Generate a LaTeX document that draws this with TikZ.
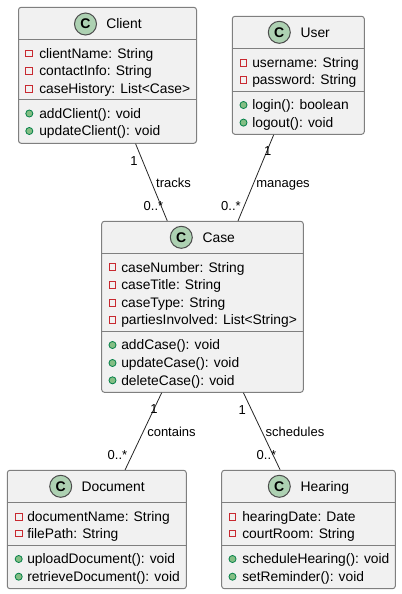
\documentclass[tikz,border=0pt]{standalone}
\usepackage{fontspec}
\setmainfont{Liberation Sans}
\definecolor{boxfill}{HTML}{F1F1F1}
\definecolor{boxline}{HTML}{7F7F7F}
\definecolor{spotfill}{HTML}{ADD1B2}
\definecolor{privline}{HTML}{C82930}
\definecolor{pubfill}{HTML}{84BE84}
\definecolor{publine}{HTML}{038048}
\tikzset{
	classbox/.style = {draw=boxline, fill=boxfill, line width=0.75pt, rounded corners=2pt, inner sep=0pt},
	divider/.style = {draw=boxline, line width=0.75pt},
	assoc/.style = {draw=black!85, line width=0.6pt},
	spot/.style = {circle, draw=black!70, fill=spotfill, line width=0.75pt, minimum size=16.5pt, inner sep=0pt, font=\fontsize{10.5pt}{12pt}\selectfont\bfseries},
	title/.style = {anchor=west, inner sep=0pt, text height=9pt, text depth=1.8pt, font=\fontsize{10.4pt}{12pt}\selectfont},
	member/.style = {anchor=west, inner sep=0pt, text height=9pt, text depth=1.8pt, font=\fontsize{10.36pt}{12pt}\selectfont},
	privicon/.style = {rectangle, draw=privline, line width=0.75pt, minimum size=5.2pt, inner sep=0pt},
	pubicon/.style = {circle, draw=publine, fill=pubfill, line width=0.6pt, minimum size=5.3pt, inner sep=0pt},
	tag/.style = {inner sep=0pt, text height=7.4pt, text depth=1.8pt, font=\fontsize{9.75pt}{11pt}\selectfont}
}
\begin{document}
\begin{tikzpicture}[x=0.75pt, y=-0.75pt]
	\useasboundingbox (0,0) rectangle (401,594);

	% classes
	\node (client) at (107.5,75.3) [classbox, minimum width=133.5pt, minimum height=102pt] {};
	\node (user) at (298.3,75.3) [classbox, minimum width=99pt, minimum height=88.5pt] {};
	\node (case) at (202.5,306.8) [classbox, minimum width=151.2pt, minimum height=128.25pt] {};
	\node (document) at (96.8,529.5) [classbox, minimum width=134.25pt, minimum height=88.8pt] {};
	\node (hearing) at (308.5,529.5) [classbox, minimum width=130.2pt, minimum height=88.8pt] {};

	% dividers
	\foreach \cls/\ya/\yb in {client/39/99, user/48.3/91.3, case/253.3/331.7, document/502.3/545.3, hearing/502.3/545.3} {
		\draw [divider] (\cls.west |- 0,\ya) -- (\cls.east |- 0,\ya);
		\draw [divider] (\cls.west |- 0,\yb) -- (\cls.east |- 0,\yb);
	}

	% headers
	\foreach \cls/\cx/\cy/\tx/\ttl in {client/85.5/24/106/Client, user/279.3/32.3/300.3/User, case/181.3/237.3/202.3/Case, document/60.7/486.3/81.3/Document, hearing/279.3/486.3/300.3/Hearing} {
		\node (\cls-spot) at (\cx,\cy) [spot] {C};
		\node (\cls-title) at (\tx,\cy) [title] {\ttl};
	}

	% fields
	\foreach \n/\ix/\tx/\y/\txt in {
		client-a/29.3/39/53.5/{clientName: String},
		client-b/29.3/39/71/{contactInfo: String},
		client-c/29.3/39/89/{caseHistory: List<Case>},
		user-a/243.5/252/62.7/{username: String},
		user-b/243.5/252/80/{password: String},
		case-a/112.5/121/267.3/{caseNumber: String},
		case-b/112.5/121/285/{caseTitle: String},
		case-c/112.5/121/302.7/{caseType: String},
		case-d/112.5/121/320/{partiesInvolved: List<String>},
		document-a/18.7/27/516.7/{documentName: String},
		document-b/18.7/27/533.5/{filePath: String},
		hearing-a/232.5/242/516.7/{hearingDate: Date},
		hearing-b/232.5/242/533.5/{courtRoom: String}} {
		\node (\n-icon) at (\ix,\y) [privicon] {};
		\node (\n) at (\tx,\y) [member] {\txt};
	}

	% methods
	\foreach \n/\ix/\tx/\y/\txt in {
		client-m/29.3/39/113.5/{addClient(): void},
		client-n/29.3/39/131/{updateClient(): void},
		user-m/243.5/252/105/{login(): boolean},
		user-n/243.5/252/122.6/{logout(): void},
		case-m/112.5/121/345/{addCase(): void},
		case-n/112.5/121/363/{updateCase(): void},
		case-o/112.5/121/380.3/{deleteCase(): void},
		document-m/18.7/27/559/{uploadDocument(): void},
		document-n/18.7/27/576.7/{retrieveDocument(): void},
		hearing-m/232.5/242/559/{scheduleHearing(): void},
		hearing-n/232.5/242/576.7/{setReminder(): void}} {
		\node (\n-icon) at (\ix,\y) [pubicon] {};
		\node (\n) at (\tx,\y) [member] {\txt};
	}

	% associations
	\draw [assoc] (client) -- (case);
	\draw [assoc] (user) -- (case);
	\draw [assoc] (case) -- (document);
	\draw [assoc] (case) -- (hearing);

	% labels
	\node (tracks) at (173.5,183.3) [tag] {tracks};
	\node (client-one) at (134,161.3) [tag] {1};
	\node (client-many) at (153.5,206.3) [tag] {0..*};
	\node (manages) at (283,183.3) [tag] {manages};
	\node (user-one) at (267.7,151.3) [tag] {1};
	\node (user-many) at (231,206.3) [tag] {0..*};
	\node (contains) at (171.5,432.3) [tag] {contains};
	\node (doc-one) at (154,409.7) [tag] {1};
	\node (doc-many) at (117.5,455.3) [tag] {0..*};
	\node (schedules) at (295,432.3) [tag] {schedules};
	\node (hear-one) at (242.3,410.3) [tag] {1};
	\node (hear-many) at (266.5,455.3) [tag] {0..*};
\end{tikzpicture}
\end{document}
